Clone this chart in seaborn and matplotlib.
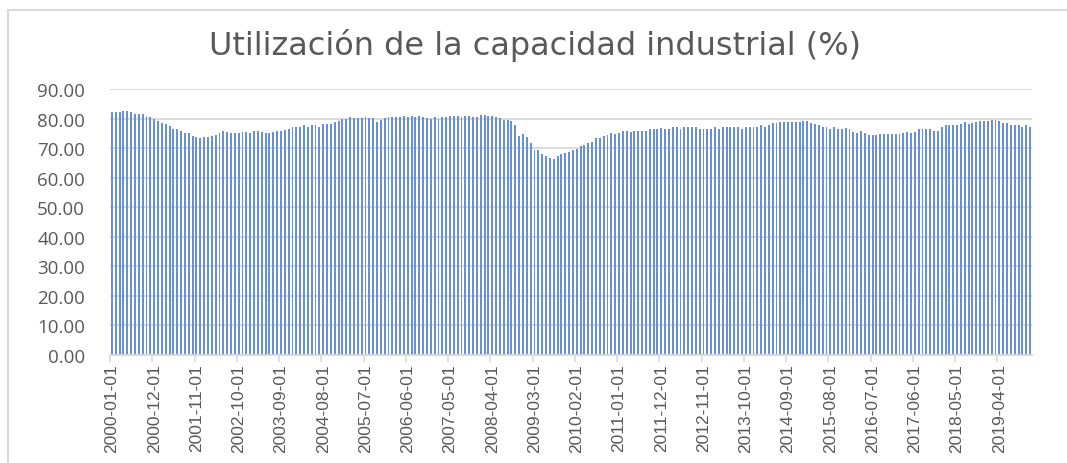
import numpy as np
import pandas as pd
import matplotlib
matplotlib.use("Agg")
import matplotlib.pyplot as plt
import seaborn as sns

# ---- data (monthly, 2000-01 .. 2019-12) ----
seg_2000_2003 = [82.1, 82.1, 82.1, 82.4, 82.4, 82.2, 81.7, 81.4, 81.4, 80.7,
                 80.6, 79.9, 79.1, 78.5, 78.1, 77.4, 76.6, 76.3, 75.7, 75.2,
                 75.0, 74.2, 73.7, 73.4, 73.7, 73.8, 74.1, 74.5, 75.1, 75.7,
                 75.3, 75.2, 75.2, 75.2, 75.3, 75.6, 75.2, 75.7, 75.9, 75.6,
                 75.2, 75.2, 75.3, 75.9, 75.7, 76.2, 76.3, 77.0]
seg_2004_2007 = [77.0, 77.0, 77.7, 77.0, 77.7, 77.9, 77.2, 78.0, 78.1, 78.1,
                 78.9, 79.1, 79.8, 79.8, 80.6, 80.2, 80.2, 80.2, 80.6, 80.1,
                 80.1, 78.8, 79.5, 80.1, 80.6, 80.6, 80.6, 80.6, 80.8, 80.6,
                 80.8, 80.5, 80.8, 80.5, 80.1, 80.0, 80.5, 79.9, 80.5, 80.6,
                 80.8, 80.8, 80.8, 80.5, 80.8, 80.8, 80.5]
seg_2007_2011 = [80.5, 81.3, 81.3, 80.9, 80.9, 80.6, 80.2, 79.5, 79.5, 79.1,
                 77.7, 74.1, 74.9, 73.8, 71.6, 69.5, 69.2, 68.0, 67.3, 66.6,
                 66.4, 67.2, 68.0, 68.5, 68.8, 69.3, 69.7, 70.6, 71.0, 71.7,
                 72.1, 73.5, 73.5, 74.2, 74.5, 75.0, 74.7, 75.0, 75.7, 75.7,
                 75.3, 75.9, 75.7, 75.7, 75.9, 76.3, 76.6, 76.4, 76.7]
seg_2012_2015 = [76.6, 76.6, 77.0, 77.3, 76.6, 77.0, 77.0, 77.0, 77.0, 76.6,
                 76.3, 76.6, 76.6, 77.0, 76.6, 77.0, 77.3, 77.0, 77.0, 77.0,
                 76.6, 77.0, 77.3, 77.3, 77.3, 77.7, 77.0, 77.7, 78.4, 78.4,
                 78.8, 78.8, 78.8, 78.8, 78.8, 78.8, 79.2, 79.2, 78.4, 78.0,
                 77.7, 77.3, 77.0, 76.6, 77.0, 76.6, 76.6]
seg_2015_2019 = [76.7, 76.3, 75.6, 75.2, 75.9, 75.2, 74.5, 74.5, 74.5, 74.9,
                 74.9, 74.9, 74.9, 74.9, 74.9, 75.2, 75.6, 75.2, 75.6, 76.3,
                 76.3, 76.6, 76.3, 75.9, 75.9, 77.3, 77.7, 77.7, 77.7, 77.7,
                 78.1, 78.8, 78.1, 78.5, 78.8, 79.2, 79.2, 79.2, 79.5, 79.5,
                 79.1, 78.5, 78.5, 77.7, 77.7, 77.7, 77.3, 77.7, 77.3]

values = seg_2000_2003 + seg_2004_2007 + seg_2007_2011 + seg_2012_2015 + seg_2015_2019
dates = pd.date_range("2000-01-01", periods=len(values), freq="MS").strftime("%Y-%m-%d").tolist()
label_step = 11
yticks = [0, 10, 20, 30, 40, 50, 60, 70, 80, 90]
title = "Utilización de la capacidad industrial (%)"

df = pd.DataFrame({"fecha": dates, "valor": values})

sns.set_theme(style="white")
plt.rcParams["font.family"] = ["DejaVu Sans"]

W, H = 1067, 464
fig = plt.figure(figsize=(W / 100, H / 100), dpi=100)
ax = fig.add_axes([110 / W, 1 - 356 / H, (1032 - 110) / W, (356 - 90) / H])

sns.barplot(data=df, x="fecha", y="valor", color="#6790d8", width=0.5,
            saturation=1, ax=ax, linewidth=0)

ax.set_xlim(-0.5, len(values) - 0.5)
ax.set_ylim(0, 90)
ax.set_yticks(yticks)
ax.set_yticklabels([f"{v:.2f}" for v in yticks], color="#595959", fontsize=13.5,
                   family=["Open Sans", "DejaVu Sans"])
ax.yaxis.grid(True, color="#d9d9d9", linewidth=1.3)
ax.set_axisbelow(True)
ax.tick_params(axis="y", length=0, pad=18)

pos = list(range(0, len(values), label_step))
ax.set_xticks(pos)
ax.set_xticklabels([dates[i] for i in pos], rotation=90, color="#595959",
                   fontsize=12.5, family=["Liberation Sans", "DejaVu Sans"])
ax.set_xticks([p - 0.5 for p in pos], minor=True)
ax.tick_params(axis="x", which="major", length=0, pad=6)
ax.tick_params(axis="x", which="minor", length=5, width=1.2, color="#d9d9d9", bottom=True)

for s in ["top", "right", "left"]:
    ax.spines[s].set_visible(False)
ax.spines["bottom"].set_color("#d9d9d9")
ax.spines["bottom"].set_linewidth(1.3)
ax.set_xlabel("")
ax.set_ylabel("")

fig.text(535 / W, 1 - 46 / H, title, ha="center", va="center", fontsize=23,
         color="#595959", family=["DejaVu Sans"])

# chart border (cropped at right and bottom)
border = plt.Rectangle((8 / W, -0.1), 1.2, 1 - 11 / H + 0.1, transform=fig.transFigure,
                       fill=False, edgecolor="#d9d9d9", linewidth=1.5)
fig.patches.append(border)

fig.savefig("out.png", dpi=100, facecolor="white")
